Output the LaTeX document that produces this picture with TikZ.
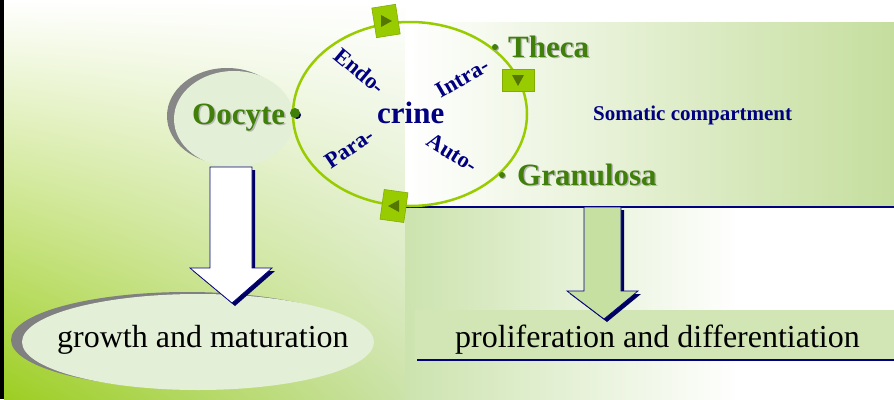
\documentclass[tikz,border=0pt]{standalone}
\usepackage{fontspec}
\setmainfont{Liberation Serif}
\usetikzlibrary{shadings}
\definecolor{navy}{HTML}{000080}
\definecolor{leafgreen}{HTML}{3F7F0A}
\definecolor{limegreen}{HTML}{99CC00}
\definecolor{tricol}{HTML}{557700}
\definecolor{bgdeep}{HTML}{9DCE22}
\definecolor{bgpale}{HTML}{CBE2A8}
\definecolor{somagreen}{HTML}{C5DE9E}
\definecolor{lowgreen}{HTML}{CCE3AE}
\definecolor{bandgreen}{HTML}{D1E6B4}
\definecolor{cellfill}{HTML}{E3EFD6}
\definecolor{arrowgreen}{HTML}{C5E0A0}
\colorlet{inkshadow}{navy!75!black}
\tikzstyle{cell}=[inner sep=0pt, text=leafgreen, font=\bfseries\fontsize{31}{31}\selectfont]
\tikzstyle{cellshadow}=[cell, text=black!28, xshift=1.5pt, yshift=-1.5pt]
\tikzstyle{mode}=[inner sep=0pt, text=navy, font=\bfseries\fontsize{22.5}{22.5}\selectfont]
\tikzstyle{outcome}=[inner sep=0pt, font=\fontsize{32}{32}\selectfont]
\tikzstyle{marker}=[rectangle, fill=limegreen, draw=limegreen!85!black, line width=0.6pt, minimum width=24pt, minimum height=30pt, inner sep=0pt]
\tikzstyle{dot}=[circle, fill=leafgreen, inner sep=0pt, minimum size=8pt]
\tikzstyle{body}=[draw=navy, line width=0.7pt]
\tikzstyle{bodyshadow}=[fill=inkshadow, transform canvas={xshift=3pt, yshift=-3pt}]

\begin{document}
\begin{tikzpicture}[x=1pt,y=-1pt]
			\useasboundingbox (0,0) rectangle (894,399);

			% Background
			\fill[white] (0,0) rectangle (894,399);
			\fill[black] (0,0) rectangle (4,399);
			\shade[upper left=white, upper right=white, lower left=bgdeep, lower right=bgpale] (4,0) rectangle (405,399);
			\shade[left color=white, right color=somagreen] (405,22) rectangle (894,207);
			\shade[left color=lowgreen, right color=white] (405,207) rectangle (740,399);
			\fill[bandgreen] (415,310) rectangle (894,360);
			\draw[navy, line width=2pt] (405,207) -- (894,207);
			\draw[navy, line width=2pt] (417,360) -- (894,360);

			% Cells
			\fill[black!47] (227,116) ellipse [x radius=60, y radius=48];
			\fill[cellfill] (234,119) ellipse [x radius=60, y radius=48];
			\fill[black!50] (187,340) ellipse [x radius=176, y radius=48];
			\fill[cellfill] (198,342) ellipse [x radius=176, y radius=48];
			\draw[limegreen, line width=2.5pt] (410,114) ellipse [x radius=117, y radius=92];

			% Arrows
			\coordinate (wtop) at (210,167);
			\coordinate (wtip) at (232,303);
			\fill[bodyshadow] (wtop) -- ++(0,101) -- ++(-20,0) -- (wtip) -- ++(40,-35) -- ++(-20,0) -- ++(0,-101) -- cycle;
			\filldraw[body, fill=white] (wtop) -- ++(0,101) -- ++(-20,0) -- (wtip) -- ++(40,-35) -- ++(-20,0) -- ++(0,-101) -- cycle;
			\coordinate (gtop) at (584,207);
			\coordinate (gtip) at (604,319);
			\fill[bodyshadow] (gtop) -- ++(0,84) -- ++(-17,0) -- (gtip) -- ++(34,-28) -- ++(-17,0) -- ++(0,-84) -- cycle;
			\filldraw[body, fill=arrowgreen] (gtop) -- ++(0,84) -- ++(-17,0) -- (gtip) -- ++(34,-28) -- ++(-17,0) -- ++(0,-84) -- cycle;

			% Markers
			\node[marker, rotate=9] (mtop) at (386,21) {};
			\node[marker, minimum width=32pt, minimum height=22pt] (mright) at (518,80) {};
			\node[marker, rotate=-8] (mbottom) at (394,206) {};
			\fill[tricol] (mtop.center) ++(-5,-6) -- ++(0,12) -- ++(11,-6) -- cycle;
			\fill[tricol] (mright.center) ++(-6,-5) -- ++(12,0) -- ++(-6,11) -- cycle;
			\fill[tricol] (mbottom.center) ++(5,-6) -- ++(0,12) -- ++(-11,-6) -- cycle;

			% Dots
			\node[dot, fill=inkshadow] at (297,115) {};
			\node[dot, minimum size=10pt] (doto) at (295,113) {};
			\node[dot, fill=black!35, minimum size=6pt] at (496,48) {};
			\node[dot, minimum size=6pt] (dott) at (495,47) {};
			\node[dot, fill=black!35, minimum size=6pt] at (503,176) {};
			\node[dot, minimum size=6pt] (dotg) at (502,175) {};

			% Labels
			\node[cellshadow, anchor=base west] at (192,124) {Oocyte};
			\node[cell, anchor=base west] (oocyte) at (192,124) {Oocyte};
			\node[cellshadow, anchor=base west] at (508,57) {Theca};
			\node[cell, anchor=base west] (theca) at (508,57) {Theca};
			\node[cellshadow, anchor=base west] at (517,185) {Granulosa};
			\node[cell, anchor=base west] (granulosa) at (517,185) {Granulosa};
			\node[cell, text=navy, anchor=base west] (crine) at (377,123) {crine};
			\node[mode, rotate=-40] (endo) at (360,71) {Endo-};
			\node[mode, rotate=30] (intra) at (462,78) {Intra-};
			\node[mode, rotate=34] (para) at (349,148) {Para-};
			\node[mode, rotate=-32] (auto) at (452,153) {Auto-};
			\node[mode, font=\bfseries\fontsize{21}{21}\selectfont, anchor=base west] (somatic) at (593,120) {Somatic compartment};
			\node[outcome, anchor=base west] (growth) at (57,347) {growth and maturation};
			\node[outcome, anchor=base west] (prolif) at (455,347) {proliferation and differentiation};
		\end{tikzpicture}
\end{document}
